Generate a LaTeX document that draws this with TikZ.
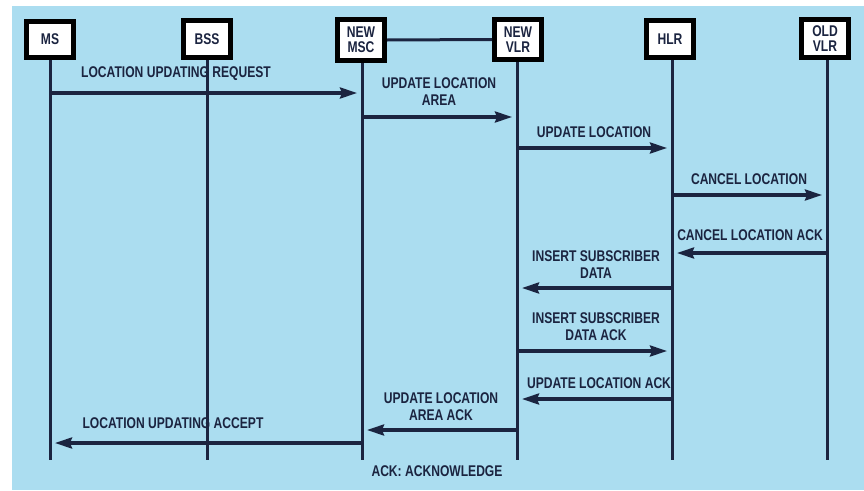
\documentclass[tikz,border=0pt]{standalone}
\usepackage{fontspec}
\setmainfont[FakeStretch=0.78]{Liberation Sans}
\usetikzlibrary{arrows.meta}
\definecolor{bgblue}{HTML}{ABDDF0}
\definecolor{ink}{HTML}{1B2440}
\begin{document}
\begin{tikzpicture}[x=1pt,y=-1pt,
  every node/.style={text=ink,font=\bfseries\fontsize{15.5}{17}\selectfont},
  entity/.style={draw=black,line width=5pt,fill=white,inner sep=0pt,minimum width=47pt,align=center},
  life/.style={draw=ink,line width=3pt},
  msg/.style={draw=ink,line width=3.2pt,-{Stealth[length=17pt,width=11pt,inset=2pt]},shorten >=5pt},
  lbl/.style={align=center,inner sep=0pt}]
\useasboundingbox (0,0) rectangle (864,490);
\fill[bgblue] (12,6) rectangle (864,490);
% entities
\node[entity,minimum height=36pt] (ms)  at (50,39) {MS};
\node[entity,minimum height=37pt] (bss) at (207,39) {BSS};
\node[entity,minimum height=41pt] (msc) at (361,40) {NEW\\[-2pt]MSC};
\node[entity,minimum height=40pt] (vlr) at (518,39.5) {NEW\\[-2pt]VLR};
\node[entity,minimum height=37pt] (hlr) at (670,39) {HLR};
\node[entity,minimum height=38pt] (old) at (825,38.5) {OLD\\[-2pt]VLR};
\draw[ink,line width=3pt] (msc.east) -- (vlr.west);
% lifelines
\coordinate (msE)  at (50,460);
\coordinate (bssE) at (207,460);
\coordinate (mscE) at (362,460);
\coordinate (vlrE) at (517,460);
\coordinate (hlrE) at (672,460);
\coordinate (oldE) at (827,460);
\draw[life] (ms.south -| msE) -- (msE);
\draw[life] (bss.south -| bssE) -- (bssE);
\draw[life] (msc.south -| mscE) -- (mscE);
\draw[life] (vlr.south -| vlrE) -- (vlrE);
\draw[life] (hlr.south -| hlrE) -- (hlrE);
\draw[life] (old.south -| oldE) -- (oldE);
% messages
\draw[msg] (msE |- 0,93) -- (mscE |- 0,93);
\node[lbl] (t1) at (176,74) {LOCATION UPDATING REQUEST};
\draw[msg] (mscE |- 0,117) -- (vlrE |- 0,117);
\node[lbl] (t2) at (439,92) {UPDATE LOCATION\\AREA};
\draw[msg] (vlrE |- 0,148) -- (hlrE |- 0,148);
\node[lbl] (t3) at (594,132) {UPDATE LOCATION};
\draw[msg] (hlrE |- 0,195) -- (oldE |- 0,195);
\node[lbl] (t4) at (749,179) {CANCEL LOCATION};
\draw[msg] (oldE |- 0,253) -- (hlrE |- 0,253);
\node[lbl] (t5) at (750,235) {CANCEL LOCATION ACK};
\draw[msg] (hlrE |- 0,288) -- (vlrE |- 0,288);
\node[lbl] (t6) at (596,264.5) {INSERT SUBSCRIBER\\DATA};
\draw[msg] (vlrE |- 0,351) -- (hlrE |- 0,351);
\node[lbl] (t7) at (596,327) {INSERT SUBSCRIBER\\DATA ACK};
\draw[msg] (hlrE |- 0,399) -- (vlrE |- 0,399);
\node[lbl] (t8) at (599,383) {UPDATE LOCATION ACK};
\draw[msg] (vlrE |- 0,430) -- (mscE |- 0,430);
\node[lbl] (t9) at (441,406.5) {UPDATE LOCATION\\AREA ACK};
\draw[msg] (mscE |- 0,443) -- (msE |- 0,443);
\node[lbl] (t10) at (173,423) {LOCATION UPDATING ACCEPT};
\node[lbl] (t11) at (437,471) {ACK: ACKNOWLEDGE};
\end{tikzpicture}
\end{document}
